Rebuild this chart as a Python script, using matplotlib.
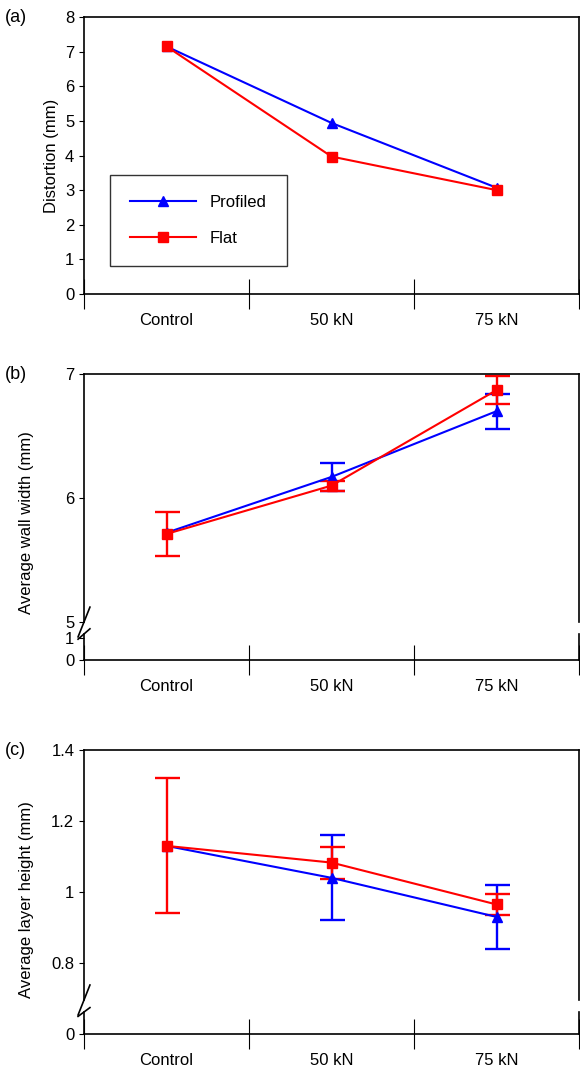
import matplotlib.pyplot as plt
import numpy as np

cats = ['Control', '50 kN', '75 kN']

dist_prof = [7.15, 4.94, 3.07]
dist_flat = [7.15, 3.97, 3.0]

wall_prof = [5.72, 6.17, 6.70]
wall_prof_err = [np.nan, 0.11, 0.14]
wall_flat = [5.71, 6.10, 6.87]
wall_flat_err = [0.18, 0.04, 0.11]

layer_prof = [1.13, 1.04, 0.93]
layer_prof_err = [np.nan, 0.12, 0.09]
layer_flat = [1.13, 1.083, 0.965]
layer_flat_err = [0.19, 0.045, 0.03]

W, H = 580, 1073
fig = plt.figure(figsize=(W / 100, H / 100), dpi=100)
plt.rcParams['font.family'] = 'Liberation Sans'
plt.rcParams['axes.linewidth'] = 1.2
FS = 12

def box(x0, y0, x1, y1):
    return fig.add_axes([x0 / W, 1 - y1 / H, (x1 - x0) / W, (y1 - y0) / H])

xpos = np.arange(3)

def style_x(ax):
    ax.set_xlim(-0.5, 2.5)
    ax.set_xticks([-0.5, 0.5, 1.5, 2.5])
    ax.set_xticklabels([])
    ax.set_xticks(xpos, minor=True)
    ax.set_xticklabels(cats, minor=True, fontsize=FS)
    ax.tick_params(axis='x', which='major', direction='inout', length=22, width=0.8)
    ax.tick_params(axis='x', which='minor', length=0, pad=14)

def draw(ax, yp, yf, ep=None, ef=None):
    kw = dict(lw=1.5, capsize=9, elinewidth=1.7, capthick=1.7, clip_on=False)
    ax.errorbar(xpos, yp, yerr=ep, color='blue', marker='^', ms=7, label='Profiled', **kw)
    ax.errorbar(xpos, yf, yerr=ef, color='red', marker='s', ms=7, label='Flat', **kw)

# (a)
ax = box(84, 17, 579, 294)
draw(ax, dist_prof, dist_flat)
ax.set_ylim(0, 8)
ax.set_yticks(range(9))
ax.tick_params(axis='y', labelsize=FS)
style_x(ax)
ax.set_ylabel('Distortion (mm)', fontsize=FS)
leg = ax.legend(loc='lower left', bbox_to_anchor=(0.035, 0.07), fontsize=FS, fancybox=False,
                edgecolor='black', borderpad=1.2, labelspacing=1.3, handlelength=4)
leg.get_frame().set_linewidth(1.0)
fig.text(5 / W, 1 - 22 / H, '(a)', fontsize=FS + 1)

def broken(top, bot_split, top_low, bot, ylim_up, ticks_up, ylim_low, ticks_low, yp, yf, ep, ef, label, tag):
    up = box(84, top, 579, bot_split)
    draw(up, yp, yf, ep, ef)
    up.set_ylim(*ylim_up)
    up.set_yticks(ticks_up)
    up.tick_params(axis='y', labelsize=FS)
    up.set_xlim(-0.5, 2.5)
    up.set_xticks([])
    up.spines['bottom'].set_visible(False)
    up.set_ylabel(label, fontsize=FS)
    up.yaxis.set_label_coords(-0.1, 0.4)
    lo = box(84, top_low, 579, bot)
    lo.set_ylim(*ylim_low)
    lo.set_yticks(ticks_low)
    lo.tick_params(axis='y', labelsize=FS)
    lo.spines['top'].set_visible(False)
    style_x(lo)
    d = 0.012
    up.plot([-d, d], [-0.06, 0.06], transform=up.transAxes, color='black', lw=1.2, clip_on=False)
    lo.plot([-d, d], [0.8, 1.2], transform=lo.transAxes, color='black', lw=1.2, clip_on=False)
    fig.text(5 / W, 1 - (top + 5) / H, tag, fontsize=FS + 1)

broken(374, 622, 634, 660, (5, 7), [5, 6, 7], (0, 1.2), [0, 1],
       wall_prof, wall_flat, wall_prof_err, wall_flat_err, 'Average wall width (mm)', '(b)')
broken(750, 1000, 1012, 1034, (0.696, 1.4), [0.8, 1.0, 1.2, 1.4], (0, 0.2), [0],
       layer_prof, layer_flat, layer_prof_err, layer_flat_err, 'Average layer height (mm)', '(c)')

ax_c = fig.axes[-2]
ax_c.set_yticklabels(['0.8', '1', '1.2', '1.4'])

fig.savefig('out.png', dpi=100)
